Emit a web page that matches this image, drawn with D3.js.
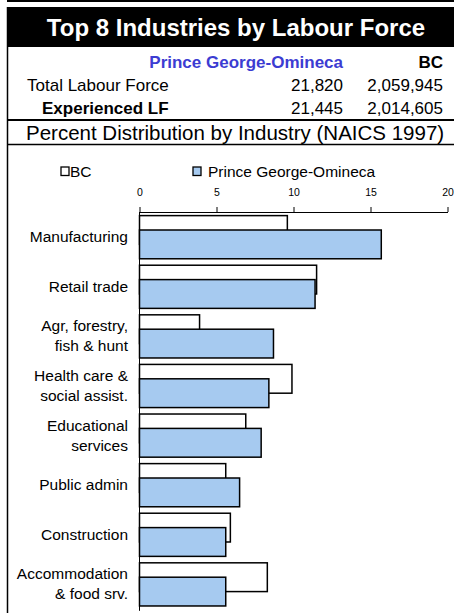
<!DOCTYPE html>
<html>
<head>
<meta charset="utf-8">
<script src="https://cdn.jsdelivr.net/npm/d3@7"></script>
<style>
  body { margin: 0; background: #fff; }
  svg { display: block; font-family: "Liberation Sans", Arial, sans-serif; }
</style>
</head>
<body>
<div id="chart"></div>
<script>
// data
var industries = ["Manufacturing", "Retail trade", "Agr, forestry,|fish & hunt",
  "Health care &|social assist.", "Educational|services", "Public admin",
  "Construction", "Accommodation|& food srv."];
var bcPct = [9.6, 11.5, 3.9, 9.9, 6.9, 5.6, 5.9, 8.3];
var pgPct = [15.7, 11.4, 8.7, 8.4, 7.9, 6.5, 5.6, 5.6];
var seriesNames = ["BC", "Prince George-Omineca"];
var headerRows = [
  {label: "Total Labour Force", pg: "21,820", bc: "2,059,945", bold: false},
  {label: "Experienced LF", pg: "21,445", bc: "2,014,605", bold: true}
];
var xTicks = [0, 5, 10, 15, 20];

var W = 454, H = 613;
var pgFill = "#a6caf0";

var svg = d3.select("#chart").append("svg")
  .attr("width", W)
  .attr("height", H);

// ---- header block ----
svg.append("line")
  .attr("x1", 7).attr("x2", W).attr("y1", 1).attr("y2", 1)
  .attr("stroke", "#000").attr("stroke-width", 2);

svg.append("rect")
  .attr("x", 7).attr("y", 7).attr("width", W - 7).attr("height", 40)
  .attr("fill", "#000");

svg.append("text")
  .attr("x", 236).attr("y", 36)
  .attr("text-anchor", "middle")
  .attr("fill", "#fff")
  .attr("font-weight", "bold")
  .attr("font-size", 24)
  .text("Top 8 Industries by Labour Force");

svg.append("line")
  .attr("x1", 7.5).attr("x2", 7.5).attr("y1", 7).attr("y2", H)
  .attr("stroke", "#000").attr("stroke-width", 1.5);

svg.append("text")
  .attr("x", 343).attr("y", 68)
  .attr("text-anchor", "end")
  .attr("fill", "#3c3cd2")
  .attr("font-weight", "bold")
  .attr("font-size", 17)
  .text("Prince George-Omineca");

svg.append("text")
  .attr("x", 443).attr("y", 68)
  .attr("text-anchor", "end")
  .attr("font-weight", "bold")
  .attr("font-size", 17)
  .text("BC");

var rows = svg.selectAll("g.hrow")
  .data(headerRows)
  .enter().append("g")
  .attr("class", "hrow")
  .attr("transform", function(d, i) { return "translate(0," + (91 + i * 22.5) + ")"; })
  .attr("font-size", 17);

rows.append("text")
  .attr("x", function(d) { return d.bold ? 42 : 27; })
  .attr("font-weight", function(d) { return d.bold ? "bold" : "normal"; })
  .text(function(d) { return d.label; });
rows.append("text")
  .attr("x", 343).attr("text-anchor", "end")
  .text(function(d) { return d.pg; });
rows.append("text")
  .attr("x", 443).attr("text-anchor", "end")
  .text(function(d) { return d.bc; });

svg.append("line")
  .attr("x1", 7).attr("x2", W).attr("y1", 120).attr("y2", 120)
  .attr("stroke", "#000").attr("stroke-width", 2);

svg.append("text")
  .attr("x", 26).attr("y", 140)
  .attr("font-size", 20.5)
  .text("Percent Distribution by Industry (NAICS 1997)");

svg.append("line")
  .attr("x1", 7).attr("x2", W).attr("y1", 144.5).attr("y2", 144.5)
  .attr("stroke", "#000").attr("stroke-width", 1.5);

// ---- chart ----
var axisY = 212;
var x = d3.scaleLinear().domain([0, 20]).range([139.5, 447.5]);
var y = d3.scaleBand().domain(industries).range([axisY, axisY + 8 * 49.6]);
var bw = y.bandwidth();
var barH = bw * 0.58;

// legend
var legend = svg.append("g").attr("font-size", 15.5);
var legX = [61, 193];
var legTextX = [70, 208];
legend.selectAll("rect")
  .data(seriesNames)
  .enter().append("rect")
  .attr("x", function(d, i) { return legX[i]; })
  .attr("y", 167)
  .attr("width", 8).attr("height", 8.5)
  .attr("fill", function(d, i) { return i === 0 ? "#fff" : pgFill; })
  .attr("stroke", "#000").attr("stroke-width", 1.3);
legend.selectAll("text")
  .data(seriesNames)
  .enter().append("text")
  .attr("x", function(d, i) { return legTextX[i]; })
  .attr("y", 177)
  .text(function(d) { return d; });

// x axis on top
var xAxis = d3.axisTop(x)
  .tickValues(xTicks)
  .tickSizeInner(5)
  .tickSizeOuter(0)
  .tickPadding(11);

var gx = svg.append("g")
  .attr("transform", "translate(0," + axisY + ")")
  .call(xAxis);
gx.selectAll("text").attr("font-size", 10.5).attr("font-family", "Liberation Sans, Arial, sans-serif").attr("fill", "#000");
gx.selectAll("line").attr("stroke", "#000");
gx.select(".domain").attr("stroke", "#000");

// bars
svg.selectAll("rect.bc")
  .data(bcPct)
  .enter().append("rect")
  .attr("class", "bc")
  .attr("x", x(0))
  .attr("y", function(d, i) { return y(industries[i]) + bw * 0.073; })
  .attr("width", function(d) { return x(d) - x(0); })
  .attr("height", barH)
  .attr("fill", "#fff")
  .attr("stroke", "#000")
  .attr("stroke-width", 1.5);

svg.selectAll("rect.pg")
  .data(pgPct)
  .enter().append("rect")
  .attr("class", "pg")
  .attr("x", x(0))
  .attr("y", function(d, i) { return y(industries[i]) + bw * 0.363; })
  .attr("width", function(d) { return x(d) - x(0); })
  .attr("height", barH)
  .attr("fill", pgFill)
  .attr("stroke", "#000")
  .attr("stroke-width", 1.5);

// y axis line
svg.append("line")
  .attr("x1", x(0)).attr("x2", x(0))
  .attr("y1", axisY).attr("y2", axisY + 8 * 49.6 + 2)
  .attr("stroke", "#000").attr("stroke-width", 1);

// category labels
var labels = svg.selectAll("text.cat")
  .data(industries)
  .enter().append("text")
  .attr("class", "cat")
  .attr("font-size", 15.5)
  .attr("text-anchor", "end")
  .attr("transform", function(d) { return "translate(128," + (y(d) + bw / 2) + ")"; });

labels.each(function(d) {
  var parts = d.split("|");
  var t = d3.select(this);
  parts.forEach(function(p, j) {
    t.append("tspan")
      .attr("x", 0)
      .attr("y", (j - (parts.length - 1) / 2) * 20)
      .attr("dy", "0.35em")
      .text(p);
  });
});
</script>
</body>
</html>
